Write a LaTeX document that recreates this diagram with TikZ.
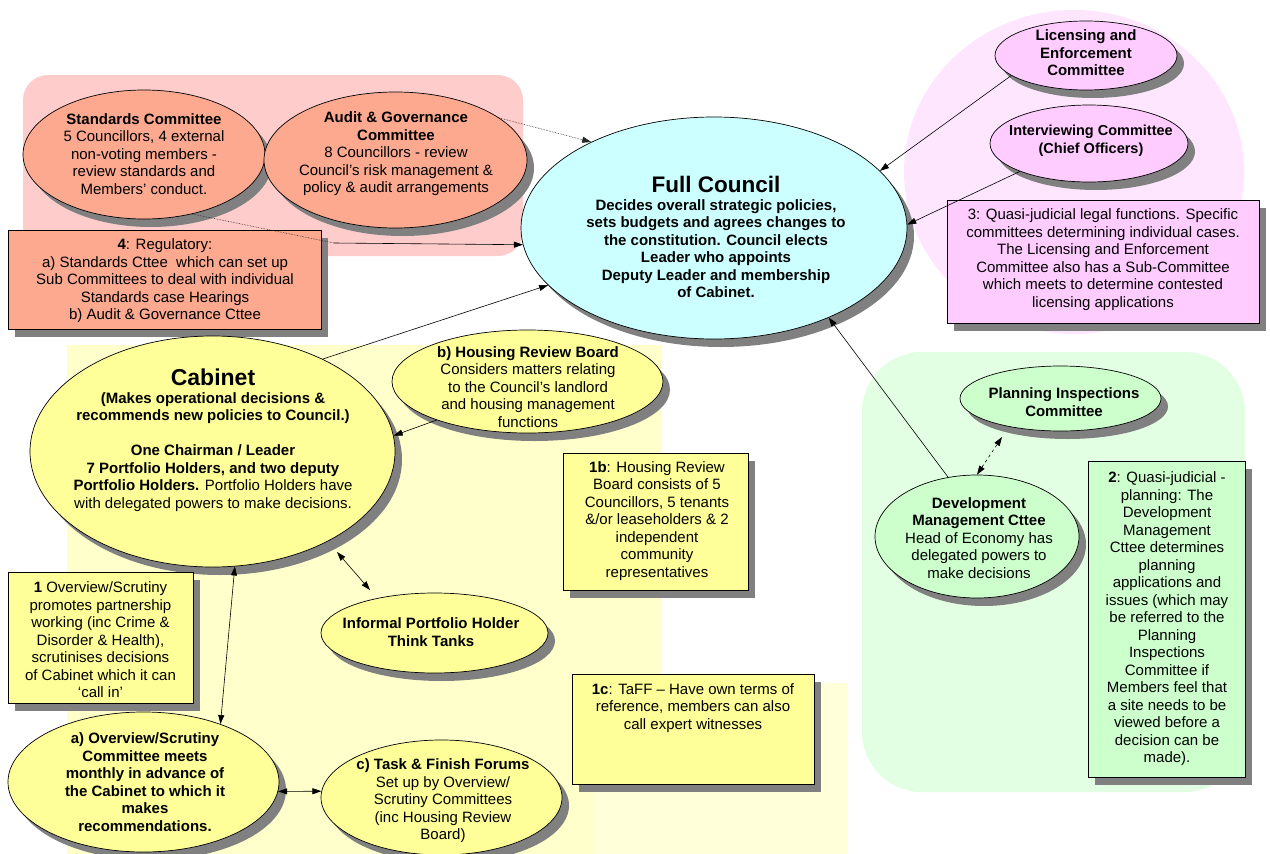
\documentclass[tikz,border=0pt]{standalone}
\usepackage{fontspec}
\setmainfont{Liberation Sans}
\usetikzlibrary{shapes.geometric,shadows,arrows.meta,calc}
\definecolor{pinkbg}{HTML}{FFCCCC}
\definecolor{salmon}{HTML}{FCA98F}
\definecolor{fccyan}{HTML}{CCFFFF}
\definecolor{lilacbg}{HTML}{FFE6FF}
\definecolor{lilac}{HTML}{FFCCFF}
\definecolor{greenbg}{HTML}{E3FFE3}
\definecolor{mint}{HTML}{CCFFCC}
\definecolor{yellowbg}{HTML}{FFFFCC}
\definecolor{yellowbgb}{HTML}{FFFFDA}
\definecolor{lemon}{HTML}{FFFF99}
\begin{document}
\begin{tikzpicture}[x=1pt,y=-1pt,
  shad/.style={drop shadow={shadow xshift=7pt,shadow yshift=-8pt,fill=black!50,opacity=1}},
  ell/.style={ellipse,draw=black,line width=0.7pt,inner sep=0pt,shad},
  bx/.style={rectangle,draw=black,line width=0.7pt,inner sep=0pt,shad},
  txt/.style={align=center,inner sep=0pt,font=\fontsize{15}{17.5}\selectfont},
  arr/.style={-{Triangle[length=9pt,width=6pt]},line width=0.6pt},
  dbl/.style={{Triangle[length=9pt,width=6pt]}-{Triangle[length=9pt,width=6pt]},line width=0.6pt},
  dots/.style={densely dotted,line width=0.6pt,black!85}]
\useasboundingbox (0,0) rectangle (1270,854);
\fill[white] (0,0) rectangle (1270,854);
% backgrounds
\fill[pinkbg,rounded corners=25pt] (23,75) rectangle (523,256);
\fill[lilacbg] (1074,172) ellipse [x radius=170,y radius=162];
\fill[greenbg,rounded corners=60pt] (862,352) rectangle (1245,792);
\fill[yellowbg] (67,345) rectangle (662,854);
\fill[yellowbgb] (593,683) rectangle (848,854);
% nodes
\node[ell,fill=salmon,minimum width=242pt,minimum height=129pt] (std) at (144,154.5) {};
\node[txt] (stdT) at (144,154) {\textbf{Standards Committee}\\5 Councillors, 4 external\\non-voting members -\\review standards and\\Members’ conduct.};
\node[ell,fill=salmon,minimum width=263pt,minimum height=136pt] (aud) at (395.5,160) {};
\node[txt] (audT) at (396,154) {\textbf{Audit \& Governance}\\\textbf{Committee}\\8 Councillors - review\\Council’s risk management \&\\policy \& audit arrangements};
\node[bx,fill=salmon,minimum width=313pt,minimum height=99pt] (b4) at (164.5,279.5) {};
\node[txt] (b4T) at (165,281) {\textbf{4}: Regulatory:\\a) Standards Cttee\ \ which can set up\\Sub Committees to deal with individual\\Standards case Hearings\\b) Audit \& Governance Cttee};
\node[ell,fill=fccyan,minimum width=386pt,minimum height=222pt] (fc) at (714,228) {};
\node[txt,font=\fontsize{15}{17.5}\selectfont\bfseries] (fcT) at (716,237) {{\fontsize{22.5}{23}\selectfont Full Council}\\Decides overall strategic policies,\\sets budgets and agrees changes to\\the constitution. Council elects\\Leader who appoints\\Deputy Leader and membership\\of Cabinet.};
\node[ell,fill=lilac,minimum width=182pt,minimum height=69pt] (lic) at (1086,55.5) {};
\node[txt,font=\fontsize{15}{17.5}\selectfont\bfseries] (licT) at (1086,53) {Licensing and\\Enforcement\\Committee};
\node[ell,fill=lilac,minimum width=198pt,minimum height=77pt] (int) at (1089,143.5) {};
\node[txt,font=\fontsize{14.5}{17.5}\selectfont\bfseries] (intT) at (1091,140.5) {Interviewing Committee\\(Chief Officers)};
\node[bx,fill=lilac,minimum width=312pt,minimum height=123pt] (b3) at (1103,261.5) {};
\node[txt] (b3T) at (1103,259.5) {3: Quasi-judicial legal functions. Specific\\committees determining individual cases.\\The Licensing and Enforcement\\Committee also has a Sub-Committee\\which meets to determine contested\\licensing applications};
\node[ell,fill=mint,minimum width=201pt,minimum height=65pt] (pi) at (1060.5,398.5) {};
\node[txt,font=\fontsize{15}{17.5}\selectfont\bfseries] (piT) at (1064,402) {Planning Inspections\\Committee};
\node[ell,fill=mint,minimum width=204pt,minimum height=123pt] (dev) at (977,536.5) {};
\node[txt] (devT) at (979,538) {\textbf{Development}\\\textbf{Management Cttee}\\Head of Economy has\\delegated powers to\\make decisions};
\node[bx,fill=mint,minimum width=157pt,minimum height=316pt] (b2) at (1166.5,619) {};
\node[txt] (b2T) at (1167,619) {\textbf{2}: Quasi-judicial -\\planning: The\\Development\\Management\\Cttee determines\\planning\\applications and\\issues (which may\\be referred to the\\Planning\\Inspections\\Committee if\\Members feel that\\a site needs to be\\viewed before a\\decision can be\\made).};
\node[ell,fill=lemon,minimum width=365pt,minimum height=231pt] (cab) at (212.5,451.5) {};
\node[txt] (cabT) at (213,440) {{\fontsize{23}{23}\selectfont\bfseries Cabinet}\\\textbf{(Makes operational decisions \&}\\\textbf{recommends new policies to Council.)}\\[17.5pt]\textbf{One Chairman / Leader}\\\textbf{7 Portfolio Holders, and two deputy}\\\textbf{Portfolio Holders.} Portfolio Holders have\\with delegated powers to make decisions.};
\node[ell,fill=lemon,minimum width=271pt,minimum height=103pt] (hrb) at (527.5,381.5) {};
\node[txt] (hrbT) at (528,387) {\textbf{b) Housing Review Board}\\Considers matters relating\\to the Council’s landlord\\and housing management\\functions};
\node[bx,fill=lemon,minimum width=185pt,minimum height=137pt] (b1b) at (655.5,521.5) {};
\node[txt] (b1bT) at (657,521) {\textbf{1b}: Housing Review\\Board consists of 5\\Councillors, 5 tenants\\\&/or leaseholders \& 2\\independent\\community\\representatives};
\node[ell,fill=lemon,minimum width=227pt,minimum height=80pt] (inf) at (434.5,633) {};
\node[txt,font=\fontsize{15}{17.5}\selectfont\bfseries] (infT) at (431,632) {Informal Portfolio Holder\\Think Tanks};
\node[bx,fill=lemon,minimum width=242pt,minimum height=110pt] (b1c) at (693,729) {};
\node[txt] (b1cT) at (693,708) {\textbf{1c}: TaFF – Have own terms of\\reference, members can also\\call expert witnesses};
\node[bx,fill=lemon,minimum width=185pt,minimum height=131pt] (b1) at (100.5,637.5) {};
\node[txt] (b1T) at (100.5,640) {\textbf{1} Overview/Scrutiny\\promotes partnership\\working (inc Crime \&\\Disorder \& Health),\\scrutinises decisions\\of Cabinet which it can\\‘call in’};
\node[ell,fill=lemon,minimum width=271pt,minimum height=140pt] (ovr) at (143.5,782) {};
\node[txt,font=\fontsize{15}{17.5}\selectfont\bfseries] (ovrT) at (145,782) {a) Overview/Scrutiny\\Committee meets\\monthly in advance of\\the Cabinet to which it\\makes\\recommendations.};
\node[ell,fill=lemon,minimum width=241pt,minimum height=115pt] (task) at (441.5,797.5) {};
\node[txt] (taskT) at (443,801) {\textbf{c) Task \& Finish Forums}\\Set up by Overview/\\Scrutiny Committees\\(inc Housing Review\\Board)};
% connectors
\coordinate (bend) at (334,243);
\draw[dots,-{Triangle[length=9pt,width=6pt]}] (aud.22.4) -- (fc.145.6);
\draw[dots] (std.-51) -- (bend);
\draw[arr] (bend) -- (fc.-175.6);
\draw[arr] (lic.-165.8) -- (fc.19.5);
\draw[arr] (int.-158.3) -- (fc.1);
\draw[arr] (dev.116) -- (fc.-38);
\draw[dbl,dashed] (dev.90) -- ($(pi.center)+(-58.5,38.5)$);
\draw[arr] (cab.40.8) -- (fc.-161.8);
\draw[arr] (hrb.-157.4) -- (cab.5.5);
\draw[dbl] ($(cab.center)+(124.5,100.5)$) -- ($(inf.center)+(-64.5,-43)$);
\draw[dbl] (cab.-79.9) -- (ovr.37.4);
\draw[dbl] (ovr.-4.2) -- (task.177.4);
\end{tikzpicture}
\end{document}
